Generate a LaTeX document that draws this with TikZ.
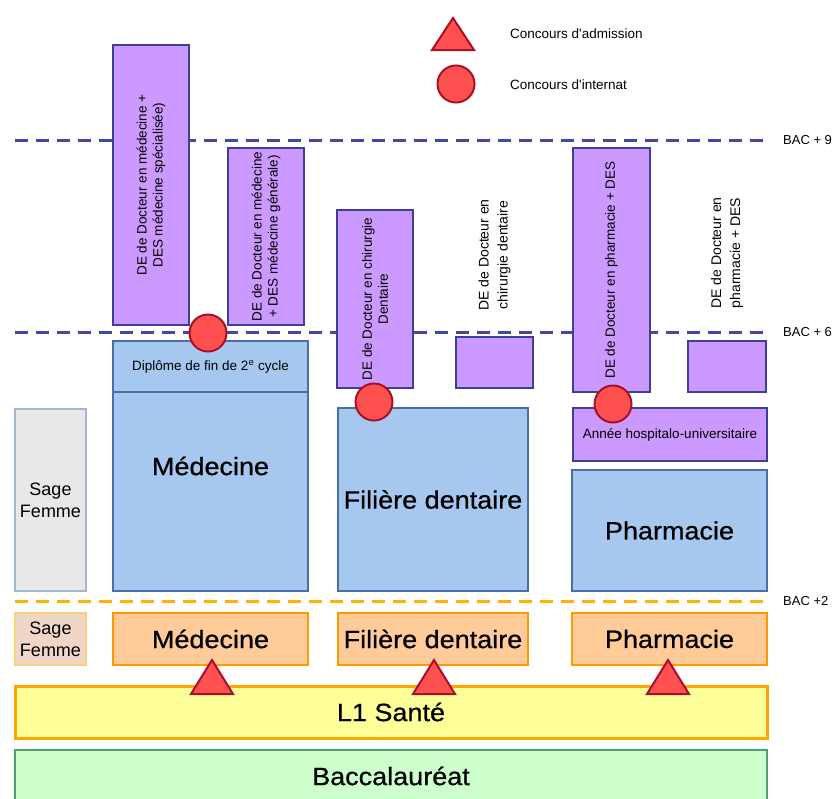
\documentclass[tikz,border=0pt]{standalone}
\usepackage{fontspec}
\setmainfont{Liberation Sans}
\newfontfamily\bigfont[FakeStretch=1.08,FakeBold=0.7]{Liberation Sans}
\definecolor{purpF}{HTML}{CC99FF}
\definecolor{purpD}{HTML}{3F3F99}
\definecolor{blueF}{HTML}{A6C8EE}
\definecolor{blueD}{HTML}{4A6FA5}
\definecolor{dashB}{HTML}{4646A8}
\definecolor{orgF}{HTML}{FFCC99}
\definecolor{orgD}{HTML}{FF9900}
\definecolor{dashO}{HTML}{FFB300}
\definecolor{yelF}{HTML}{FFFF99}
\definecolor{yelD}{HTML}{FFA500}
\definecolor{grnF}{HTML}{CCFFCC}
\definecolor{grnD}{HTML}{4E9F72}
\definecolor{redF}{HTML}{FF5050}
\definecolor{redD}{HTML}{A8102A}
\definecolor{greyF}{HTML}{E8E8E8}
\definecolor{greyD}{HTML}{A4B4D2}
\definecolor{peachF}{HTML}{EFD6C6}
\definecolor{peachD}{HTML}{FAD07E}
\tikzset{
  box/.style={rectangle, inner sep=0pt, outer sep=0pt, align=center},
  pbox/.style={box, fill=purpF, draw=purpD, line width=2.5pt},
  bbox/.style={box, fill=blueF, draw=blueD, line width=2pt},
  obox/.style={box, fill=orgF, draw=orgD, line width=2.5pt},
  small/.style={font=\fontsize{13.5}{16}\selectfont},
  free/.style={align=center, font=\fontsize{14}{19}\selectfont},
  big/.style={font=\bigfont\fontsize{25}{30}\selectfont},
  sage/.style={font=\fontsize{18}{22}\selectfont},
  lbl/.style={font=\fontsize{13}{14}\selectfont, anchor=west, inner sep=0pt},
  redmark/.style={fill=redF, draw=redD, line width=2pt},
  redcirc/.style={circle, redmark, minimum size=37pt, inner sep=0pt},
  bacline/.style={dashB, line width=3pt, dash pattern=on 13pt off 8pt},
  bacline2/.style={dashO, line width=3pt, dash pattern=on 13pt off 8pt},
}
\begin{document}
\begin{tikzpicture}[x=1pt,y=-1pt]
\useasboundingbox (0,0) rectangle (838,798);
% level lines
\coordinate (l9a) at (15,140); \coordinate (l9b) at (765,140);
\coordinate (l6a) at (15,332); \coordinate (l6b) at (765,332);
\coordinate (l2a) at (15,601); \coordinate (l2b) at (765,601);
\draw[bacline] (l9a) -- (l9b);
\draw[bacline] (l6a) -- (l6b);
\draw[bacline2] (l2a) -- (l2b);
\node[lbl] (b9) at (783,140) {BAC + 9};
\node[lbl] (b6) at (783,332) {BAC + 6};
\node[lbl] (b2) at (783,601) {BAC +2};

% legend
\path[redmark] (453,18) -- (474,50) -- (432,50) -- cycle;
\node[lbl, font=\fontsize{13.5}{16}\selectfont] (lg1) at (510,34) {Concours d\textquotesingle admission};
\node[redcirc] (lgc) at (456,84) {};
\node[lbl, font=\fontsize{13.5}{16}\selectfont] (lg2) at (510,85) {Concours d\textquotesingle internat};

% medecine column
\node[pbox, small, rotate=90, minimum width=280pt, minimum height=76pt] (dms) at (151,185) {DE de Docteur en médecine +\\DES médecine spécialisée)};
\node[pbox, small, rotate=90, minimum width=177pt, minimum height=76pt] (dmg) at (266,236.5) {DE de Docteur en médecine\\+ DES médecine générale)};
\node[bbox, small, minimum width=195pt, minimum height=51pt] (dip) at (210.5,366.5) {Diplôme de fin de 2\textsuperscript{e} cycle};
\node[bbox, minimum width=195pt, minimum height=199pt] (medb) at (210.5,491.5) {};
\node[big] (medt) at (210.5,466) {Médecine};

% dentaire column
\node[pbox, small, rotate=90, minimum width=178pt, minimum height=76pt] (dcd) at (375,299) {DE de Docteur en chirurgie\\Dentaire};
\node[free, rotate=90] (dcdt) at (494.5,255) {DE de Docteur en\\chirurgie dentaire};
\node[pbox, minimum width=77pt, minimum height=51pt] (dsm) at (494.5,362.5) {};
\node[bbox, big, minimum width=190pt, minimum height=183pt] (dentb) at (433,499.5) {Filière dentaire};

% pharmacie column
\node[pbox, small, rotate=90, minimum width=244pt, minimum height=77pt] (dph) at (611.5,270) {DE de Docteur en pharmacie + DES};
\node[free, rotate=90] (dpht) at (727,253) {DE de Docteur en\\pharmacie + DES};
\node[pbox, minimum width=78pt, minimum height=51pt] (psm) at (727,366.5) {};
\node[pbox, small, minimum width=194pt, minimum height=53pt] (ahu) at (670,434.5) {Année hospitalo-universitaire};
\node[bbox, big, minimum width=195pt, minimum height=121pt] (pharb) at (669.5,530.5) {Pharmacie};

% sage femme
\node[box, sage, fill=greyF, draw=greyD, line width=1.5pt, minimum width=71pt, minimum height=182pt] (sf1) at (50.5,500) {Sage\\Femme};
\node[box, sage, fill=peachF, draw=peachD, line width=1.5pt, minimum width=71pt, minimum height=52pt] (sf2) at (50.5,639) {Sage\\Femme};

% second year
\node[obox, big, minimum width=195pt, minimum height=52pt] (medo) at (210.5,639) {Médecine};
\node[obox, big, minimum width=190pt, minimum height=52pt] (dento) at (433,639) {Filière dentaire};
\node[obox, big, minimum width=195pt, minimum height=52pt] (pharo) at (669.5,639) {Pharmacie};

% L1 and bac
\node[box, big, fill=yelF, draw=yelD, line width=3pt, minimum width=752pt, minimum height=52pt] (l1) at (391,712) {L1 Santé};
\node[box, big, fill=grnF, draw=grnD, line width=2pt, minimum width=752pt, minimum height=58pt] (bac) at (391,779) {};
\node[big] (bact) at (391,776) {Baccalauréat};

% internat circles
\node[redcirc] (c1) at (208,333) {};
\node[redcirc] (c2) at (374,402) {};
\node[redcirc] (c3) at (613,404) {};

% admission triangles
\path[redmark] (212,660) -- (233,694) -- (191,694) -- cycle;
\path[redmark] (434,660) -- (455,694) -- (413,694) -- cycle;
\path[redmark] (668,660) -- (689,694) -- (647,694) -- cycle;
\end{tikzpicture}
\end{document}
